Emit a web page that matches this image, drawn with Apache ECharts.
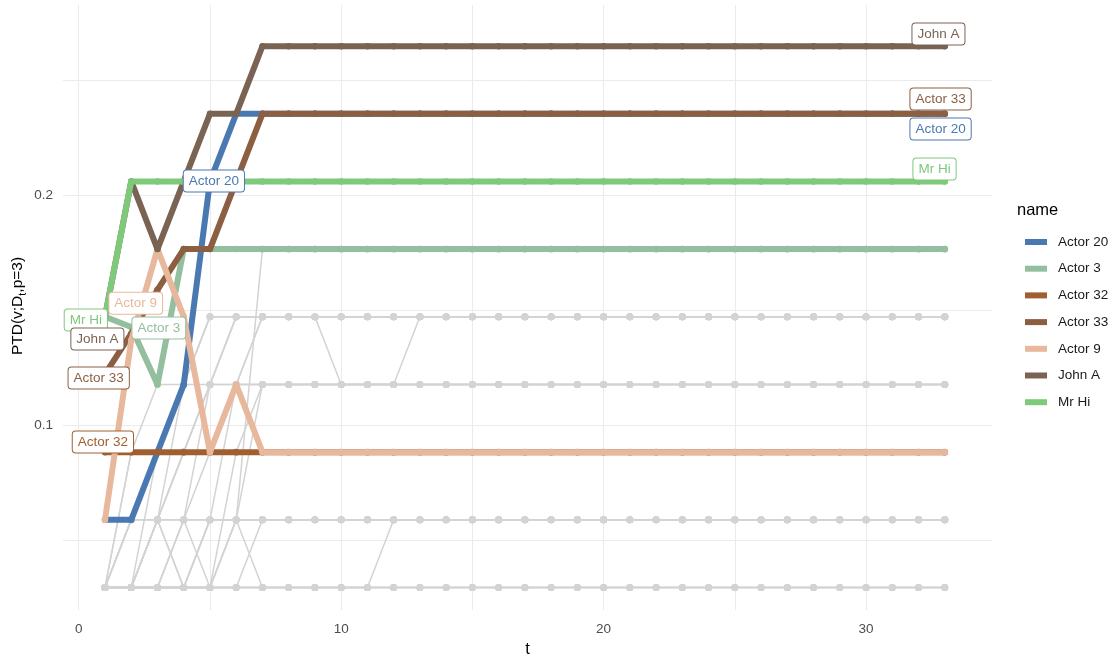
<!DOCTYPE html>
<html>
<head>
<meta charset="utf-8">
<script src="https://cdn.jsdelivr.net/npm/echarts@6.0.0/dist/echarts.min.js"></script>
<style>
  html, body { margin: 0; padding: 0; background: #fff; }
  #chart { width: 1109px; height: 658px; }
</style>
</head>
<body>
<div id="chart"></div>
<script>
// time steps
const t = [1, 2, 3, 4, 5, 6, 7, 8, 9, 10, 11, 12, 13, 14, 15, 16, 17,
  18, 19, 20, 21, 22, 23, 24, 25, 26, 27, 28, 29, 30, 31, 32, 33];

// other actors: reached node count per time step (one digit per t), PTD = count / nodeCount
const nodeCount = 34;
const greyLevels = [
  "111111111111111111111111111111111",
  "111111111112222222222222222222222",
  "112222222222222222222222222222222",
  "122222222222222222222222222222222",
  "112122222222222222222222222222222",
  "111211111111111111111111111111111",
  "111112222222222222222222222222222",
  "111111222222222222222222222222222",
  "111112111111111111111111111111111",
  "134455555555555555555555555555555",
  "133455555555555555555555555555555",
  "123344444444444444444444444444444",
  "112344444444444444444444444444444",
  "111245555555555555555555555555555",
  "111124555555555555555555555555555",
  "111122666666666666666666666666666",
  "111113444444444444444444444444444",
  "112234555555555555555555555555555",
  "123445555444444444444444444444444",
  "112334444444555555555555555555555",
  "113333333333333333333333333333333",
  "122122222222222222222222222222222",
  "111112444444444444444444444444444",
  "112455555555555555555555555555555",
  "111111111111111111111111111111111",
  "111222222222222222222222222222222",
  "122345555555555555555555555555555"
];

// highlighted actors
const names = ["Actor 20", "Actor 3", "Actor 32", "Actor 33", "Actor 9", "John A", "Mr Hi"];
const colors = ["#4a79b2", "#93bf9f", "#a05f30", "#8c5f42", "#e8b89c", "#7a6353", "#7ec97a"];

const actor20 = [0.0588, 0.0588, 0.0882, 0.1176, 0.2059, 0.2353, 0.2353, 0.2353, 0.2353, 0.2353, 0.2353,
  0.2353, 0.2353, 0.2353, 0.2353, 0.2353, 0.2353, 0.2353, 0.2353, 0.2353, 0.2353, 0.2353,
  0.2353, 0.2353, 0.2353, 0.2353, 0.2353, 0.2353, 0.2353, 0.2353, 0.2353, 0.2353, 0.2353];
const actor3 = [0.1471, 0.1426, 0.1176, 0.1765, 0.1765, 0.1765, 0.1765, 0.1765, 0.1765, 0.1765, 0.1765,
  0.1765, 0.1765, 0.1765, 0.1765, 0.1765, 0.1765, 0.1765, 0.1765, 0.1765, 0.1765, 0.1765,
  0.1765, 0.1765, 0.1765, 0.1765, 0.1765, 0.1765, 0.1765, 0.1765, 0.1765, 0.1765, 0.1765];
const actor32 = [0.0882, 0.0882, 0.0882, 0.0882, 0.0882, 0.0882, 0.0882, 0.0882, 0.0882, 0.0882, 0.0882,
  0.0882, 0.0882, 0.0882, 0.0882, 0.0882, 0.0882, 0.0882, 0.0882, 0.0882, 0.0882, 0.0882,
  0.0882, 0.0882, 0.0882, 0.0882, 0.0882, 0.0882, 0.0882, 0.0882, 0.0882, 0.0882, 0.0882];
const actor33 = [0.1221, 0.1397, 0.1588, 0.1765, 0.1765, 0.2059, 0.2353, 0.2353, 0.2353, 0.2353, 0.2353,
  0.2353, 0.2353, 0.2353, 0.2353, 0.2353, 0.2353, 0.2353, 0.2353, 0.2353, 0.2353, 0.2353,
  0.2353, 0.2353, 0.2353, 0.2353, 0.2353, 0.2353, 0.2353, 0.2353, 0.2353, 0.2353, 0.2353];
const actor9 = [0.0588, 0.1368, 0.1765, 0.1471, 0.0882, 0.1176, 0.0882, 0.0882, 0.0882, 0.0882, 0.0882,
  0.0882, 0.0882, 0.0882, 0.0882, 0.0882, 0.0882, 0.0882, 0.0882, 0.0882, 0.0882, 0.0882,
  0.0882, 0.0882, 0.0882, 0.0882, 0.0882, 0.0882, 0.0882, 0.0882, 0.0882, 0.0882, 0.0882];
const johnA = [0.1471, 0.2059, 0.1765, 0.2059, 0.2353, 0.2353, 0.2647, 0.2647, 0.2647, 0.2647, 0.2647,
  0.2647, 0.2647, 0.2647, 0.2647, 0.2647, 0.2647, 0.2647, 0.2647, 0.2647, 0.2647, 0.2647,
  0.2647, 0.2647, 0.2647, 0.2647, 0.2647, 0.2647, 0.2647, 0.2647, 0.2647, 0.2647, 0.2647];
const mrHi = [0.1471, 0.2059, 0.2059, 0.2059, 0.2059, 0.2059, 0.2059, 0.2059, 0.2059, 0.2059, 0.2059,
  0.2059, 0.2059, 0.2059, 0.2059, 0.2059, 0.2059, 0.2059, 0.2059, 0.2059, 0.2059, 0.2059,
  0.2059, 0.2059, 0.2059, 0.2059, 0.2059, 0.2059, 0.2059, 0.2059, 0.2059, 0.2059, 0.2059];

// repelled name labels (data coordinates)
const labelText = ["Mr Hi", "John A", "Actor 33", "Actor 9", "Actor 3", "Actor 32", "Actor 20",
  "John A", "Actor 33", "Actor 20", "Mr Hi"];
const labelT = [0.27, 0.71, 0.76, 2.17, 3.05, 0.92, 5.15, 32.76, 32.84, 32.84, 32.61];
const labelY = [0.1457, 0.1374, 0.1204, 0.1530, 0.1422, 0.0926, 0.2061, 0.2700, 0.2417, 0.2287, 0.2113];

const font = "'Liberation Sans', Arial, sans-serif";
const picked = [actor20, actor3, actor32, actor33, actor9, johnA, mrHi];

var chart = echarts.init(document.getElementById("chart"));
var series = [];

greyLevels.forEach(function (s, i) {
  series.push({
    type: "line",
    name: "other " + i,
    data: t.map(function (x, j) { return [x, Number(s[j]) / nodeCount]; }),
    symbol: "circle",
    symbolSize: 7,
    silent: true,
    lineStyle: { color: "#d3d3d3", width: 1.5 },
    itemStyle: { color: "#d3d3d3" },
    zlevel: 0,
    z: 1
  });
});

names.forEach(function (n, i) {
  series.push({
    type: "line",
    name: n,
    data: t.map(function (x, j) { return [x, picked[i][j]]; }),
    symbol: "circle",
    symbolSize: 6.5,
    silent: true,
    lineStyle: { color: colors[i], width: 6, cap: "round", join: "round" },
    itemStyle: { color: colors[i] },
    zlevel: 1,
    z: 2 + i
  });
});

series.push({
  type: "scatter",
  name: "labels",
  silent: true,
  symbolSize: 1,
  itemStyle: { color: "transparent", opacity: 1 },
  zlevel: 1,
  z: 20,
  data: labelText.map(function (s, i) {
    var c = colors[names.indexOf(s)];
    return { name: s, value: [labelT[i], labelY[i]], label: { color: c, borderColor: c } };
  }),
  label: {
    show: true,
    opacity: 1,
    position: "inside",
    formatter: "{b}",
    fontSize: 13.5,
    fontFamily: font,
    backgroundColor: "#fff",
    borderWidth: 1,
    borderRadius: 3,
    padding: [4, 5, 3, 5]
  }
});

var option = {
  animation: false,
  backgroundColor: "#fff",
  grid: { left: 63, right: 117, top: 5, bottom: 48, outerBoundsMode: "none" },
  xAxis: {
    type: "value",
    min: -0.6,
    max: 34.8,
    splitNumber: 7,
    axisLine: { show: false },
    axisTick: { show: false },
    axisLabel: {
      color: "#4d4d4d", fontSize: 13.5, fontFamily: font, margin: 12,
      showMinLabel: false, showMaxLabel: false,
      formatter: function (v) { return v % 10 === 0 ? String(v) : ""; }
    },
    splitLine: { show: true, showMinLine: false, showMaxLine: false, lineStyle: { color: "#ebebeb", width: 1 } },
    name: "t",
    nameLocation: "middle",
    nameGap: 29,
    nameTextStyle: { color: "#000", fontSize: 16.5, fontFamily: font }
  },
  yAxis: {
    type: "value",
    min: 0.0196,
    max: 0.2826,
    splitNumber: 5,
    axisLine: { show: false },
    axisTick: { show: false },
    axisLabel: {
      color: "#4d4d4d", fontSize: 13.5, fontFamily: font, margin: 10,
      showMinLabel: false, showMaxLabel: false,
      formatter: function (v) {
        if (Math.abs(v - 0.1) < 1e-6) return "0.1";
        if (Math.abs(v - 0.2) < 1e-6) return "0.2";
        return "";
      }
    },
    splitLine: { show: true, showMinLine: false, showMaxLine: false, lineStyle: { color: "#ebebeb", width: 1 } }
  },
  legend: {
    data: names,
    orient: "vertical",
    left: 1020,
    top: 230,
    icon: "rect",
    itemWidth: 22,
    itemHeight: 6,
    itemGap: 12.7,
    selectedMode: false,
    textStyle: { color: "#1a1a1a", fontSize: 13.5, fontFamily: font, padding: [0, 0, 0, 6] }
  },
  graphic: [
    {
      type: "text",
      left: 1017,
      top: 202,
      style: { text: "name", fill: "#000", fontSize: 16.5, fontFamily: font }
    },
    {
      type: "text",
      x: 18,
      y: 306,
      rotation: Math.PI / 2,
      style: {
        text: "{a|PTD(v;D}{s|t}{a|,p=3)}",
        align: "center",
        verticalAlign: "middle",
        rich: {
          a: { fill: "#000", fontSize: 15.5, fontFamily: font, lineHeight: 20 },
          s: { fill: "#000", fontSize: 11, fontFamily: font, lineHeight: 11, verticalAlign: "bottom" }
        }
      }
    }
  ],
  series: series
};

chart.setOption(option);
</script>
</body>
</html>
